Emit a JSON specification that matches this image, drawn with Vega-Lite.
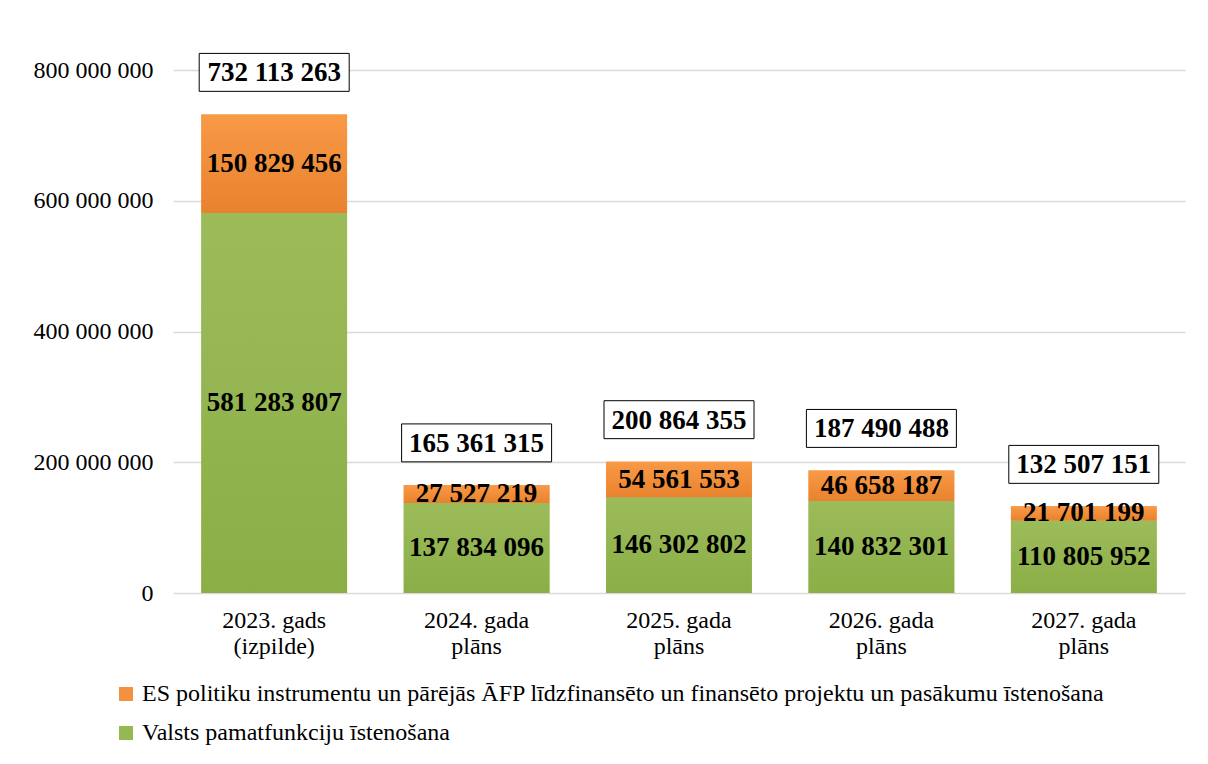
{
  "$schema": "https://vega.github.io/schema/vega-lite/v6.json",
  "autosize": "none",
  "width": 1012,
  "height": 523,
  "padding": {"left": 173, "top": 70, "right": 23, "bottom": 171},
  "background": "white",
  "config": {
    "locale": {"number": {"decimal": ".", "thousands": " ", "grouping": [3], "currency": ["", ""]}},
    "font": "Liberation Serif",
    "view": {"stroke": null},
    "axis": {"labelFont": "Liberation Serif", "labelColor": "#000000", "labelFontSize": 24}
  },
  "datasets": {
    "parts": [
      {"year": "2023. gads (izpilde)", "series": "Valsts pamatfunkciju īstenošana", "value": 581283807},
      {"year": "2023. gads (izpilde)", "series": "ES politiku instrumentu un pārējās ĀFP līdzfinansēto un finansēto projektu un pasākumu īstenošana", "value": 150829456},
      {"year": "2024. gada plāns", "series": "Valsts pamatfunkciju īstenošana", "value": 137834096},
      {"year": "2024. gada plāns", "series": "ES politiku instrumentu un pārējās ĀFP līdzfinansēto un finansēto projektu un pasākumu īstenošana", "value": 27527219},
      {"year": "2025. gada plāns", "series": "Valsts pamatfunkciju īstenošana", "value": 146302802},
      {"year": "2025. gada plāns", "series": "ES politiku instrumentu un pārējās ĀFP līdzfinansēto un finansēto projektu un pasākumu īstenošana", "value": 54561553},
      {"year": "2026. gada plāns", "series": "Valsts pamatfunkciju īstenošana", "value": 140832301},
      {"year": "2026. gada plāns", "series": "ES politiku instrumentu un pārējās ĀFP līdzfinansēto un finansēto projektu un pasākumu īstenošana", "value": 46658187},
      {"year": "2027. gada plāns", "series": "Valsts pamatfunkciju īstenošana", "value": 110805952},
      {"year": "2027. gada plāns", "series": "ES politiku instrumentu un pārējās ĀFP līdzfinansēto un finansēto projektu un pasākumu īstenošana", "value": 21701199}
    ],
    "totals": [
      {"year": "2023. gads (izpilde)", "total": 732113263},
      {"year": "2024. gada plāns", "total": 165361315},
      {"year": "2025. gada plāns", "total": 200864355},
      {"year": "2026. gada plāns", "total": 187490488},
      {"year": "2027. gada plāns", "total": 132507151}
    ]
  },
  "encoding": {
    "x": {
      "field": "year", "type": "nominal", "sort": null,
      "scale": {"paddingInner": 0.28, "paddingOuter": 0.14},
      "axis": {
        "title": null, "labelAngle": 0, "ticks": false, "domain": false,
        "labelPadding": 15, "labelLineHeight": 26,
        "labelExpr": "[split(datum.label, ' ')[0] + ' ' + split(datum.label, ' ')[1], split(datum.label, ' ')[2]]"
      }
    }
  },
  "layer": [
    {
      "data": {"name": "parts"},
      "transform": [
        {"stack": "value", "groupby": ["year"], "sort": [{"field": "value", "order": "descending"}], "as": ["v0", "v1"]},
        {"calculate": "(datum.v0 + datum.v1) / 2", "as": "mid"}
      ],
      "layer": [
        {
          "mark": {"type": "bar"},
          "encoding": {
            "y": {
              "field": "v0", "type": "quantitative",
              "scale": {"domain": [0, 800000000], "nice": false},
              "axis": {
                "title": null, "values": [0, 200000000, 400000000, 600000000, 800000000],
                "format": ",d", "ticks": false, "domain": false, "labelPadding": 20,
                "gridColor": "#d9d9d9", "gridWidth": 1.5
              }
            },
            "y2": {"field": "v1"},
            "color": {
              "field": "series", "type": "nominal",
              "scale": {
                "domain": ["ES politiku instrumentu un pārējās ĀFP līdzfinansēto un finansēto projektu un pasākumu īstenošana", "Valsts pamatfunkciju īstenošana"],
                "range": ["#F39140", "#95B853"]
              },
              "legend": {
                "title": null, "orient": "none", "legendX": -59, "legendY": 612,
                "direction": "vertical", "symbolType": "square", "symbolSize": 196,
                "symbolStrokeWidth": 0, "labelFontSize": 24, "labelFont": "Liberation Serif",
                "labelColor": "#000000", "labelLimit": 0, "rowPadding": 15, "labelOffset": 4
              }
            }
          }
        },
        {
          "mark": {"type": "bar"},
          "encoding": {
            "y": {"field": "v0", "type": "quantitative"},
            "y2": {"field": "v1"},
            "fill": {
              "condition": {
                "test": "datum.series === 'Valsts pamatfunkciju īstenošana'",
                "value": {"gradient": "linear", "x1": 0, "y1": 0, "x2": 0, "y2": 1, "stops": [{"offset": 0, "color": "#9CBC5A"}, {"offset": 1, "color": "#8BAE47"}]}
              },
              "value": {"gradient": "linear", "x1": 0, "y1": 0, "x2": 0, "y2": 1, "stops": [{"offset": 0, "color": "#F99A46"}, {"offset": 1, "color": "#E8822E"}]}
            }
          }
        },
        {
          "mark": {"type": "text", "font": "Liberation Serif", "fontWeight": "bold", "fontSize": 27, "color": "#000000", "baseline": "middle"},
          "encoding": {
            "y": {"field": "mid", "type": "quantitative"},
            "text": {"field": "value", "type": "quantitative", "format": ",d"}
          }
        }
      ]
    },
    {
      "data": {"name": "totals"},
      "layer": [
        {
          "mark": {"type": "point", "shape": "M-1,-0.253H1V0.253H-1Z", "size": 22500, "filled": true, "fill": "white", "stroke": "#000000", "strokeWidth": 1, "opacity": 1, "yOffset": -42},
          "encoding": {"y": {"field": "total", "type": "quantitative"}}
        },
        {
          "mark": {"type": "text", "font": "Liberation Serif", "fontWeight": "bold", "fontSize": 27, "color": "#000000", "baseline": "middle", "dy": -41},
          "encoding": {
            "y": {"field": "total", "type": "quantitative"},
            "text": {"field": "total", "type": "quantitative", "format": ",d"}
          }
        }
      ]
    }
  ]
}
